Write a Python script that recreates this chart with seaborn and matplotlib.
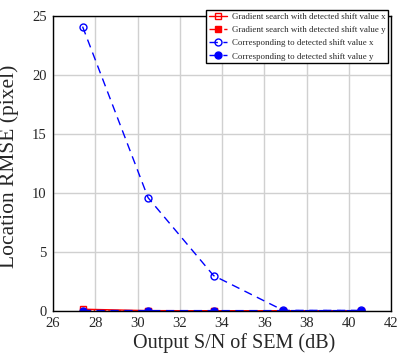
import matplotlib
matplotlib.use("Agg")
import matplotlib.pyplot as plt
import seaborn as sns
import pandas as pd

snr = [27.4, 30.5, 33.6, 36.9, 40.6]
grad_x = [0.15, 0.03, 0.02, 0.02, 0.02]
grad_y = [0.03, 0.02, 0.02, 0.02, 0.02]
corr_x = [24.1, 9.6, 3.0, 0.05, 0.05]
corr_y = [0.04, 0.03, 0.03, 0.03, 0.03]
labels = ["Gradient search with detected shift value x",
          "Gradient search with detected shift value y",
          "Corresponding to detected shift value x",
          "Corresponding to detected shift value y"]

sns.set_style("whitegrid")
plt.rcParams['font.family'] = ['Liberation Serif', 'DejaVu Serif']

fig = plt.figure(figsize=(4.0, 3.55), dpi=100)
ax = fig.add_axes([0.1325, 0.124, 0.845, 0.831])

series = [grad_x, grad_y, corr_x, corr_y]
styles = [
    dict(color="red", marker="s", mfc="none", ls="-"),
    dict(color="red", marker="s", mfc="red", ls="-."),
    dict(color="blue", marker="o", mfc="none", ls=(0, (6, 4))),
    dict(color="blue", marker="o", mfc="blue", ls=(0, (6, 4))),
]
for vals, lab, st in zip(series, labels, styles):
    df = pd.DataFrame({"x": snr, "y": vals})
    sns.lineplot(data=df, x="x", y="y", ax=ax, color=st["color"], marker=st["marker"],
                 markerfacecolor=st["mfc"], markeredgecolor=st["color"], markersize=5,
                 markeredgewidth=1.0, linestyle=st["ls"], linewidth=1.0, label=lab)

ax.set_xlim(26, 42)
ax.set_ylim(0, 25)
ax.set_xticks(range(26, 43, 2))
ax.set_yticks(range(0, 26, 5))
ax.grid(True, color="#d0d0d0", linewidth=1.0)
for s in ax.spines.values():
    s.set_color("black")
    s.set_linewidth(1.0)
ax.tick_params(labelsize=10.5, length=2.5, direction="out", pad=2, color="#888888")
ax.set_xlabel("Output S/N of SEM (dB)", fontsize=14.5)
ax.xaxis.set_label_coords(0.535, -0.075)
ax.set_ylabel("Location RMSE (pixel)", fontsize=15.5)
ax.yaxis.set_label_coords(-0.1, 0.49)
leg = ax.legend(loc="upper right", bbox_to_anchor=(0.997, 1.025), fontsize=6.4, frameon=True,
                fancybox=False, edgecolor="black", borderpad=0.3, labelspacing=0.55,
                handlelength=2.0, handletextpad=0.6, borderaxespad=0.2, framealpha=1)
leg.get_frame().set_linewidth(1.0)
fig.savefig("out.png", dpi=100)
